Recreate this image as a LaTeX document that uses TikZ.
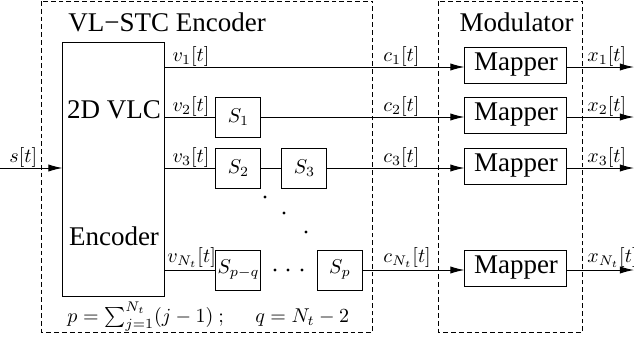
\documentclass[tikz,border=0pt]{standalone}
\usepackage{fontspec}
\setmainfont{Liberation Serif}
\newfontfamily\tmsfont{Liberation Serif}
\usetikzlibrary{arrows.meta}
\begin{document}
\begin{tikzpicture}[x=0.5pt,y=-0.5pt, line width=0.5pt,
 sbox/.style={draw, inner sep=0pt, minimum width=22.5pt, minimum height=20pt, font=\fontsize{10}{12}\selectfont},
 mapper/.style={draw, inner sep=0pt, minimum width=51pt, minimum height=18pt, font=\tmsfont\fontsize{13.5}{16}\selectfont},
 txt/.style={inner sep=0pt, font=\tmsfont\fontsize{13.5}{16}\selectfont},
 lbl/.style={inner sep=0pt, font=\fontsize{10}{12}\selectfont, anchor=base west},
 dbox/.style={draw, dash pattern=on 2.4pt off 1.5pt},
 arr/.style={-{Latex[length=7pt,width=3.6pt]}},
 dot/.style={fill=black}]
\useasboundingbox (0,0) rectangle (634,339);
% group frames
\draw[dbox] (42,1) rectangle (373,332);
\draw[dbox] (439,1) rectangle (583,332);
\node[txt, anchor=base west] (tvl) at (68,31) {VL−STC Encoder};
\node[txt, anchor=base west] (tmod) at (459,31) {Modulator};
% rows
\coordinate (r1) at (0,67);
\coordinate (r2) at (0,117);
\coordinate (r3) at (0,168);
\coordinate (rN) at (0,270);
% encoder block
\node[draw, inner sep=0pt, minimum width=51pt, minimum height=127pt] (enc) at (114,169) {};
\node[txt, anchor=base] (t2d) at (114,118) {2D VLC};
\node[txt, anchor=base] (tenc) at (114,245) {Encoder};
% shift registers
\node[sbox] (s1) at (238.5,117) {$S_1$};
\node[sbox] (s2) at (238.5,168) {$S_2$};
\node[sbox] (s3) at (304.5,168) {$S_3$};
\node[sbox] (spq) at (238.5,270) {$S_{p-q}$};
\node[sbox] (sp) at (340,270) {$S_p$};
% mappers
\node[mapper] (m1) at (516,65) {Mapper};
\node[mapper] (m2) at (516,115) {Mapper};
\node[mapper] (m3) at (516,166) {Mapper};
\node[mapper] (mN) at (516,268) {Mapper};
% input
\coordinate (sin) at (0,168);
\draw[arr] (sin) -- (enc.west |- r3);
\node[lbl] (ls) at (9,162) {$s[t]$};
% row 1
\draw[arr] (enc.east |- r1) -- (m1.west |- r1);
% row 2
\draw (enc.east |- r2) -- (s1.west);
\draw[arr] (s1.east) -- (m2.west |- r2);
% row 3
\draw (enc.east |- r3) -- (s2.west);
\draw (s2.east) -- (s3.west);
\draw[arr] (s3.east) -- (m3.west |- r3);
% row N
\draw (enc.east |- rN) -- (spq.west);
\draw[arr] (sp.east) -- (mN.west |- rN);
% outputs
\coordinate (o1) at (634,67);
\coordinate (o2) at (634,117);
\coordinate (o3) at (634,168);
\coordinate (oN) at (634,270);
\draw[arr] (m1.east |- r1) -- (o1);
\draw[arr] (m2.east |- r2) -- (o2);
\draw[arr] (m3.east |- r3) -- (o3);
\draw[arr] (mN.east |- rN) -- (oN);
% labels
\node[lbl] (lv1) at (172,61) {$v_1[t]$};
\node[lbl] (lv2) at (172,111) {$v_2[t]$};
\node[lbl] (lv3) at (172,162) {$v_3[t]$};
\node[lbl] (lvN) at (167,262) {$v_{N_t}[t]$};
\node[lbl] (lc1) at (383,61) {$c_1[t]$};
\node[lbl] (lc2) at (383,111) {$c_2[t]$};
\node[lbl] (lc3) at (383,162) {$c_3[t]$};
\node[lbl] (lcN) at (383,262) {$c_{N_t}[t]$};
\node[lbl] (lx1) at (587,61) {$x_1[t]$};
\node[lbl] (lx2) at (587,111) {$x_2[t]$};
\node[lbl] (lx3) at (587,162) {$x_3[t]$};
\node[lbl] (lxN) at (587,262) {$x_{N_t}[t]$};
% dots
\fill[dot] (265,197) circle (0.8pt);
\fill[dot] (284,213) circle (0.8pt);
\fill[dot] (306,232) circle (0.8pt);
\fill[dot] (275,270) circle (0.8pt);
\fill[dot] (288,270) circle (0.8pt);
\fill[dot] (302,270) circle (0.8pt);
% formula
\node[lbl] (form) at (67,322) {$p=\sum_{j=1}^{N_t}(j-1)\ ;\hspace{14pt}q=N_t-2$};
\end{tikzpicture}
\end{document}
